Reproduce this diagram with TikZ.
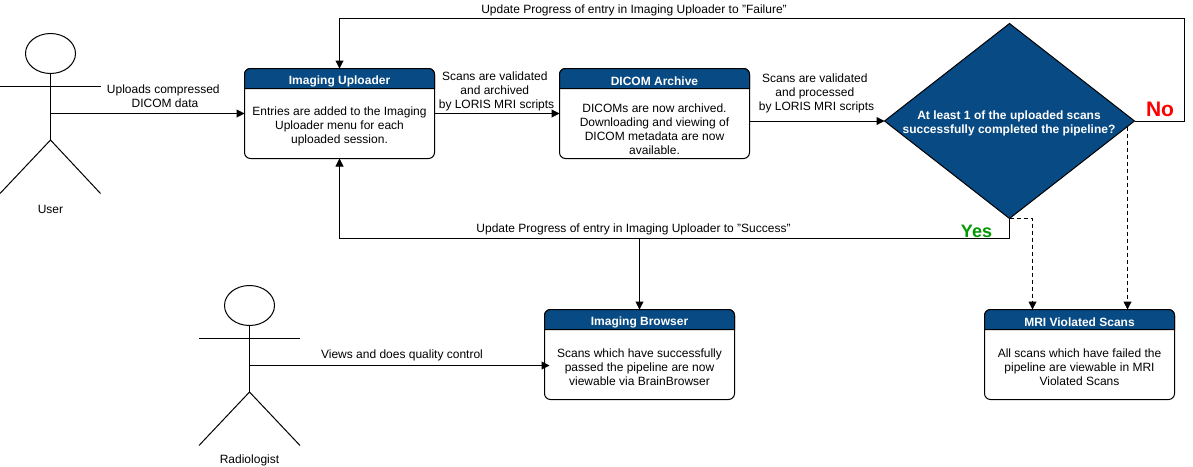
\documentclass[tikz,border=0pt]{standalone}
\usepackage{fontspec}
\setmainfont{Liberation Sans}
\usetikzlibrary{positioning,arrows.meta,shapes.geometric}
\definecolor{loreblue}{HTML}{084A83}
\definecolor{noline}{HTML}{FF0000}
\definecolor{yesline}{HTML}{009900}

\newcommand{\boxheader}[2]{%
  \draw[boxhead] ([yshift=-20pt]#1.north west) [rounded corners=6pt] -- (#1.north west) -- (#1.north east) [sharp corners] -- ([yshift=-20pt]#1.north east) -- cycle;
  \node[headtext] (#1title) at ([yshift=-12.5pt]#1.north) {#2};
}

\begin{document}
\begin{tikzpicture}[
        x=1pt, y=-1pt,
        line width=1pt,
        every node/.style={font=\fontsize{12}{14}\selectfont, inner sep=0pt, outer sep=0pt},
        scanbox/.style={draw, rounded corners=6pt, minimum width=190pt, minimum height=90pt},
        boxhead/.style={draw, fill=loreblue},
        headtext/.style={font=\fontsize{12}{14}\selectfont\bfseries, text=white},
        boxtext/.style={align=center},
        edgetext/.style={align=center},
        actorhead/.style={draw, ellipse, minimum width=50pt, minimum height=40pt},
        arr/.style={-{Triangle[length=8pt,width=8pt]}},
        darr/.style={arr, dash pattern=on 4pt off 3pt},
        decisionbox/.style={draw, diamond, fill=loreblue, minimum width=250pt, minimum height=195pt, shape aspect=1.28},
      ]
        \useasboundingbox (0,0) rectangle (1193,466);

        % Boxes
        \node[scanbox] (uploader) at (339.5,113.5) {};
        \boxheader{uploader}{Imaging Uploader}
        \node[boxtext] (uploadertext) at (339.5,126) {Entries are added to the Imaging\\Uploader menu for each\\uploaded session.};

        \node[scanbox] (archive) at (654.5,113.5) {};
        \boxheader{archive}{DICOM Archive}
        \node[boxtext] (archivetext) at (654.5,129) {DICOMs are now archived.\\Downloading and viewing of\\DICOM metadata are now\\available.};

        \node[scanbox] (browser) at (639.5,354.5) {};
        \boxheader{browser}{Imaging Browser}
        \node[boxtext] (browsertext) at (639.5,367) {Scans which have successfully\\passed the pipeline are now\\viewable via BrainBrowser};

        \node[scanbox] (violated) at (1079.5,354.5) {};
        \boxheader{violated}{MRI Violated Scans}
        \node[boxtext] (violatedtext) at (1079.5,367) {All scans which have failed the\\pipeline are viewable in MRI\\Violated Scans};

        % Decision
        \node[decisionbox] (decision) at (1009.5,121) {};
        \node[headtext, align=center] (decisiontext) at (1009,123) {At least 1 of the uploaded scans\\successfully completed the pipeline?};

        % User
        \node[actorhead] (userhead) at (50.5,53.5) {};
        \coordinate (userhip) at (50.5,140);
        \coordinate (userhand) at (50.5,113.5);
        \draw (userhead.south) -- (userhip);
        \draw (0,86.5) -- (100.5,86.5);
        \draw (0,193.5) -- (userhip) -- (100.5,193.5);
        \node (usertext) at (50.5,209) {User};

        % Radiologist
        \node[actorhead] (radiohead) at (249.5,305.5) {};
        \coordinate (radiohip) at (249.5,392);
        \coordinate (radiohand) at (249.5,365.5);
        \coordinate (radiotip) at (549.5,365.5);
        \draw (radiohead.south) -- (radiohip);
        \draw (199,338.5) -- (300,338.5);
        \draw (199,445.5) -- (radiohip) -- (300,445.5);
        \node (radiotext) at (249.5,460.5) {Radiologist};

        % Connectors
        \draw[arr] (userhand) -- (uploader.west);
        \draw[arr] (uploader.east) -- (archive.west);
        \draw[arr] (archive.east |- decision.west) -- (decision.west);
        \draw[arr] (radiohand) -- (radiotip);

        \coordinate (failright) at (1184.5,18.5);
        \draw[arr] (decision.east) -| (failright) -| (uploader.north);
        \coordinate (passturn) at (1009.5,238.5);
        \draw[arr] (decision.south) -- (passturn) -| (uploader.south);
        \draw[arr] (browser.north |- passturn) -- (browser.north);

        \coordinate (violatedleft) at (1032.5,309.5);
        \coordinate (violatedfork) at (1127.5,126.5);
        \draw[darr] (decision.south) -| (violatedleft);
        \draw[darr] (violatedfork) -- (violatedfork |- violated.north);

        % Labels
        \node[edgetext] (uploadlabel) at (165,96) {Uploads compressed\ \mbox{}\\DICOM data};
        \node[edgetext] (archivelabel) at (496.5,91) {Scans are validated\ \mbox{}\\and archived\ \mbox{}\\by LORIS MRI scripts};
        \node[edgetext] (processlabel) at (816.5,93) {Scans are validated\ \mbox{}\\and processed\ \mbox{}\\by LORIS MRI scripts};
        \node[edgetext] (faillabel) at (634,10.5) {Update Progress of entry in Imaging Uploader to "Failure"};
        \node[edgetext] (passlabel) at (633.5,229) {Update Progress of entry in Imaging Uploader to "Success"};
        \node[edgetext] (viewlabel) at (402,355) {Views and does quality control};
        \node[font=\fontsize{18}{20}\selectfont\bfseries, text=yesline] (yeslabel) at (976.5,231) {Yes};
        \node[font=\fontsize{21}{24}\selectfont\bfseries, text=noline] (nolabel) at (1160,109) {No};
      \end{tikzpicture}
\end{document}
